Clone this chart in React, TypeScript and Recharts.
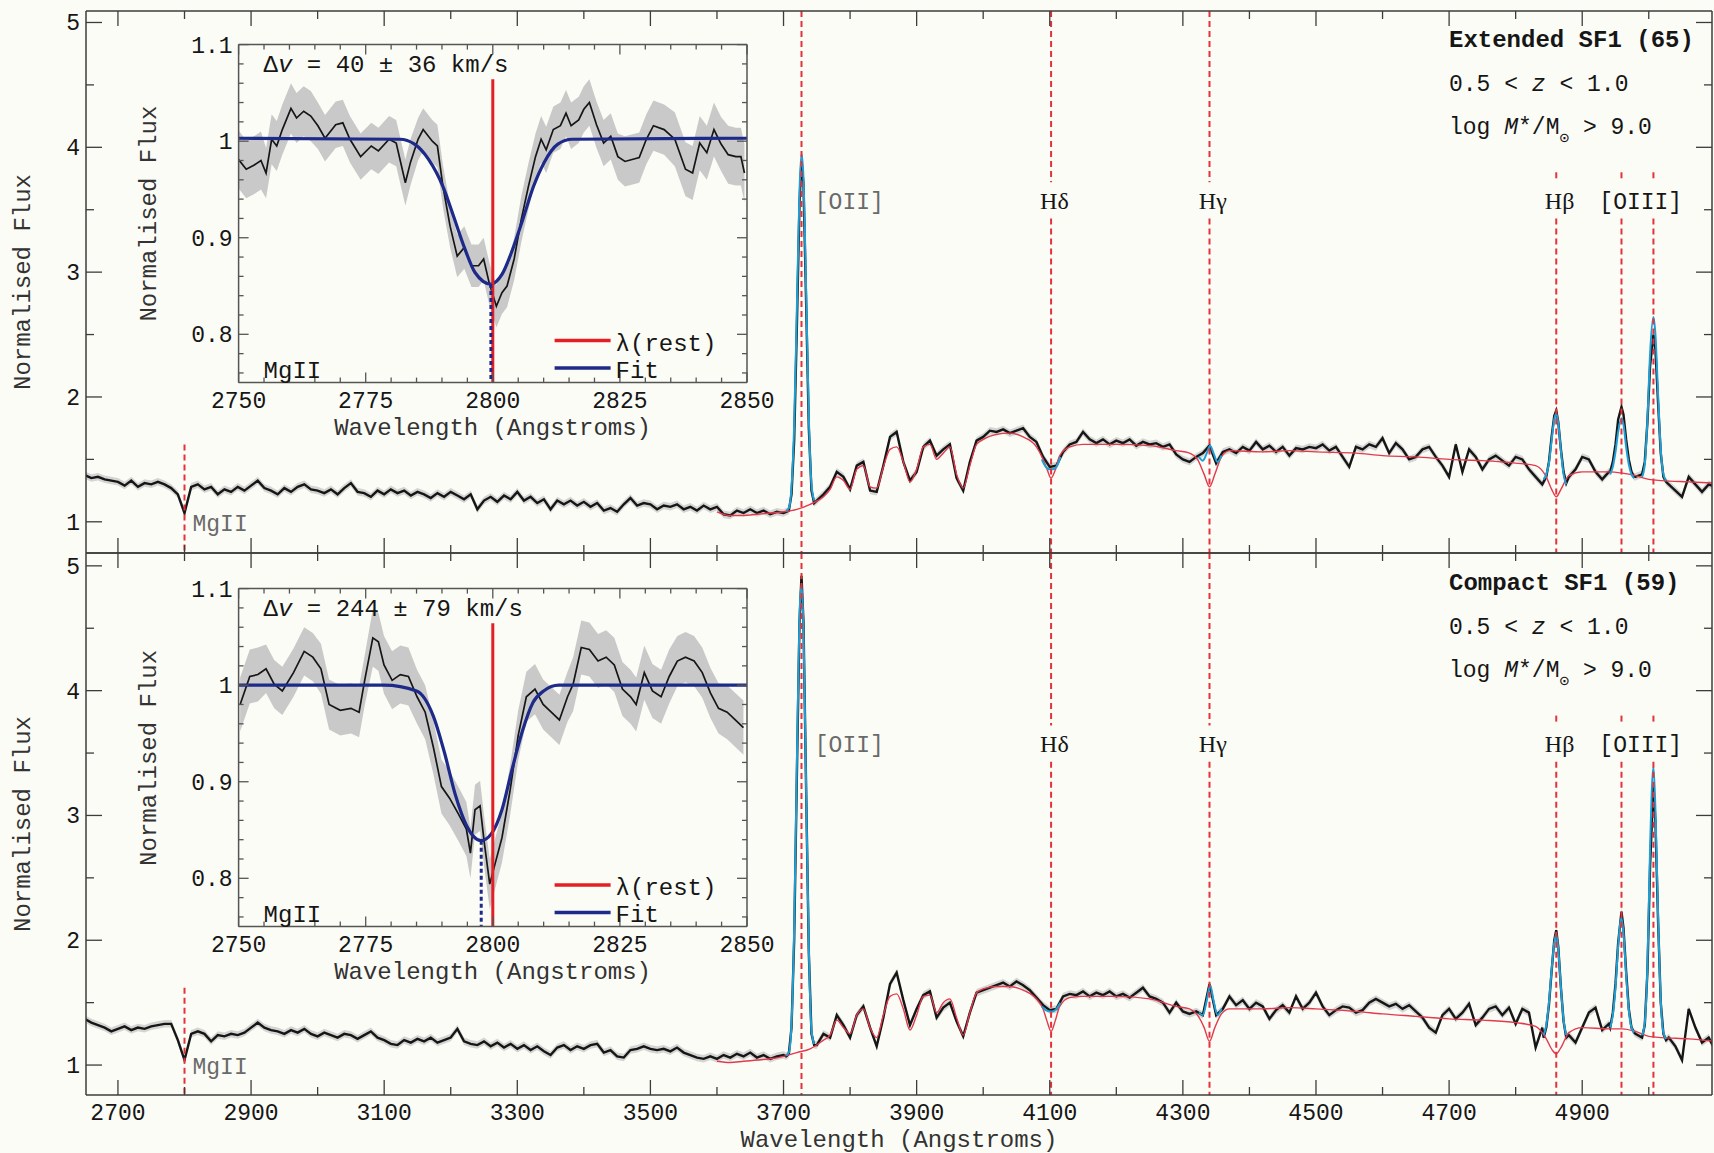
import { ComposedChart, Line, Area, XAxis, YAxis, ReferenceLine, ReferenceDot } from 'recharts';

type Pair = [number, number];

const W = 1714;
const H = 1153;
const BG = '#fcfcf6';
const INK = '#161616';
const FRAME = '#3c3c3c';
const MONO = '"Liberation Mono", "DejaVu Sans Mono", monospace';
const SERIF = '"Liberation Serif", "DejaVu Serif", serif';
const DASH_RED = '#e3323c';
const MODEL_RED = '#e23a4c';
const FIT_CYAN = '#1f9fd6';
const FIT_NAVY = '#1e2a8a';
const REST_RED = '#e31e24';
const BAND = '#cfcfcf';

// stacked spectra, sampled every 10 A from 2650 A
const GRID_START = 2650;
const GRID_STEP = 10;

const extFlux = [
  1.375, 1.35, 1.36, 1.34, 1.33, 1.32, 1.29, 1.33, 1.28, 1.31,
  1.30, 1.32, 1.30, 1.27, 1.22, 1.07, 1.28, 1.30, 1.26, 1.28,
  1.22, 1.26, 1.24, 1.28, 1.25, 1.29, 1.33, 1.27, 1.25, 1.22,
  1.27, 1.24, 1.28, 1.30, 1.26, 1.25, 1.23, 1.26, 1.22, 1.27,
  1.31, 1.24, 1.23, 1.20, 1.25, 1.22, 1.26, 1.23, 1.25, 1.21,
  1.24, 1.22, 1.19, 1.23, 1.20, 1.24, 1.21, 1.18, 1.22, 1.10,
  1.17, 1.20, 1.16, 1.21, 1.18, 1.24, 1.17, 1.20, 1.15, 1.18,
  1.10, 1.17, 1.14, 1.17, 1.13, 1.16, 1.12, 1.15, 1.09, 1.11,
  1.08, 1.14, 1.19, 1.13, 1.15, 1.14, 1.10, 1.13, 1.12, 1.14,
  1.10, 1.12, 1.09, 1.13, 1.10, 1.12, 1.06, 1.05, 1.09, 1.07,
  1.10, 1.07, 1.09, 1.06, 1.08, 1.07, 1.09, 2.60, 3.70, 1.18,
  1.17, 1.22, 1.28, 1.40, 1.36, 1.26, 1.45, 1.48, 1.25, 1.24,
  1.45, 1.68, 1.72, 1.48, 1.33, 1.40, 1.60, 1.65, 1.53, 1.58,
  1.62, 1.35, 1.25, 1.48, 1.65, 1.68, 1.73, 1.72, 1.74, 1.71,
  1.73, 1.75, 1.68, 1.64, 1.52, 1.44, 1.45, 1.56, 1.62, 1.64,
  1.72, 1.66, 1.63, 1.66, 1.62, 1.65, 1.63, 1.66, 1.61, 1.64,
  1.62, 1.63, 1.60, 1.62, 1.54, 1.50, 1.48, 1.52, 1.55, 1.61,
  1.47, 1.56, 1.58, 1.55, 1.60, 1.57, 1.64, 1.58, 1.61, 1.56,
  1.60, 1.53, 1.59, 1.58, 1.60, 1.59, 1.62, 1.57, 1.60, 1.52,
  1.44, 1.60, 1.58, 1.62, 1.60, 1.67, 1.55, 1.63, 1.58, 1.50,
  1.52, 1.58, 1.60, 1.52, 1.45, 1.36, 1.62, 1.40, 1.58, 1.52,
  1.42, 1.50, 1.53, 1.49, 1.45, 1.52, 1.50, 1.42, 1.36, 1.30,
  1.60, 1.85, 1.55, 1.36, 1.42, 1.52, 1.50, 1.40, 1.34, 1.40,
  1.60, 1.85, 1.50, 1.36, 1.40, 2.20, 2.30, 1.30, 1.30, 1.25,
  1.20, 1.36, 1.30, 1.24, 1.30, 1.28,
];

const cmpFlux = [
  1.37, 1.34, 1.32, 1.30, 1.27, 1.29, 1.31, 1.28, 1.30, 1.29,
  1.31, 1.32, 1.33, 1.33, 1.20, 1.04, 1.25, 1.27, 1.25, 1.19,
  1.24, 1.23, 1.25, 1.24, 1.26, 1.30, 1.34, 1.30, 1.28, 1.27,
  1.25, 1.28, 1.26, 1.29, 1.25, 1.23, 1.26, 1.24, 1.22, 1.25,
  1.24, 1.21, 1.24, 1.27, 1.22, 1.20, 1.17, 1.16, 1.20, 1.18,
  1.21, 1.19, 1.22, 1.18, 1.20, 1.22, 1.29, 1.19, 1.17, 1.16,
  1.19, 1.15, 1.18, 1.14, 1.17, 1.13, 1.16, 1.12, 1.15, 1.11,
  1.08, 1.14, 1.16, 1.12, 1.15, 1.13, 1.16, 1.17, 1.10, 1.12,
  1.07, 1.06, 1.12, 1.13, 1.15, 1.13, 1.12, 1.13, 1.11, 1.14,
  1.10, 1.08, 1.06, 1.05, 1.07, 1.05, 1.08, 1.06, 1.09, 1.07,
  1.10, 1.06, 1.08, 1.05, 1.07, 1.08, 1.10, 3.30, 4.50, 1.30,
  1.16, 1.25, 1.22, 1.40, 1.32, 1.22, 1.40, 1.47, 1.30, 1.15,
  1.38, 1.65, 1.74, 1.52, 1.32, 1.45, 1.56, 1.59, 1.38, 1.46,
  1.50, 1.35, 1.23, 1.42, 1.58, 1.60, 1.62, 1.64, 1.66, 1.63,
  1.67, 1.64, 1.60, 1.54, 1.48, 1.44, 1.45, 1.55, 1.57, 1.56,
  1.59, 1.55, 1.58, 1.56, 1.59, 1.55, 1.57, 1.54, 1.58, 1.62,
  1.55, 1.53, 1.50, 1.42, 1.50, 1.43, 1.41, 1.43, 1.40, 1.65,
  1.40, 1.45, 1.55, 1.48, 1.52, 1.45, 1.50, 1.47, 1.37, 1.44,
  1.48, 1.42, 1.55, 1.45, 1.50, 1.58, 1.47, 1.40, 1.44, 1.47,
  1.46, 1.42, 1.44, 1.50, 1.53, 1.50, 1.47, 1.49, 1.45, 1.48,
  1.43, 1.38, 1.30, 1.26, 1.40, 1.45, 1.37, 1.42, 1.49, 1.32,
  1.38, 1.45, 1.47, 1.40, 1.46, 1.33, 1.45, 1.42, 1.14, 1.30,
  1.70, 2.00, 1.40, 1.24, 1.18, 1.30, 1.42, 1.46, 1.28, 1.33,
  1.70, 2.10, 1.40, 1.25, 1.22, 2.50, 2.80, 1.40, 1.22, 1.15,
  1.04, 1.45, 1.30, 1.18, 1.22, 1.12,
];

// emission-line profiles at finer sampling: [wavelength, flux]
const extOii: Pair[] = [[3704, 1.08], [3708, 1.09], [3712, 1.22], [3716, 1.65], [3720, 2.55], [3724, 3.55], [3727, 3.9], [3730, 3.7], [3734, 2.75], [3738, 1.75], [3742, 1.25], [3746, 1.15]];
const extHb: Pair[] = [[4842, 1.32], [4846, 1.36], [4850, 1.48], [4854, 1.68], [4858, 1.85], [4861, 1.89], [4864, 1.8], [4868, 1.58], [4872, 1.4], [4876, 1.31]];
const extO3a: Pair[] = [[4942, 1.4], [4946, 1.48], [4950, 1.62], [4954, 1.82], [4959, 1.92], [4962, 1.86], [4966, 1.66], [4970, 1.5], [4974, 1.4], [4978, 1.36]];
const extO3b: Pair[] = [[4990, 1.38], [4994, 1.48], [4998, 1.8], [5002, 2.25], [5007, 2.5], [5010, 2.38], [5014, 1.95], [5018, 1.55], [5022, 1.36], [5026, 1.32]];

const cmpOii: Pair[] = [[3704, 1.07], [3708, 1.09], [3712, 1.3], [3716, 2.0], [3720, 3.3], [3724, 4.55], [3727, 4.92], [3730, 4.55], [3734, 3.2], [3738, 1.9], [3742, 1.25], [3746, 1.16]];
const cmpHb: Pair[] = [[4842, 1.22], [4846, 1.3], [4850, 1.48], [4854, 1.75], [4858, 2.0], [4861, 2.08], [4864, 1.95], [4868, 1.62], [4872, 1.35], [4876, 1.22]];
const cmpO3a: Pair[] = [[4942, 1.3], [4946, 1.42], [4950, 1.65], [4954, 1.98], [4959, 2.23], [4962, 2.1], [4966, 1.75], [4970, 1.45], [4974, 1.3], [4978, 1.26]];
const cmpO3b: Pair[] = [[4990, 1.22], [4994, 1.32], [4998, 1.75], [5002, 2.6], [5007, 3.24], [5010, 2.95], [5014, 2.15], [5018, 1.5], [5022, 1.25], [5026, 1.2]];

// Gaussian line fits
const extFitOii: Pair[] = [[3704, 1.09], [3708, 1.11], [3712, 1.28], [3716, 1.78], [3720, 2.7], [3724, 3.65], [3727, 3.95], [3730, 3.75], [3734, 2.85], [3738, 1.85], [3742, 1.3], [3746, 1.17]];
const extFitHd: Pair[] = [[4088, 1.5], [4094, 1.44], [4100, 1.42], [4104, 1.42], [4110, 1.44], [4116, 1.52]];
const extFitHg: Pair[] = [[4324, 1.52], [4330, 1.49], [4336, 1.55], [4341, 1.61], [4346, 1.55], [4352, 1.48], [4358, 1.53]];
const extFitHb: Pair[] = [[4842, 1.34], [4846, 1.38], [4850, 1.47], [4854, 1.65], [4858, 1.82], [4861, 1.87], [4864, 1.79], [4868, 1.57], [4872, 1.38], [4876, 1.3]];
const extFitO3a: Pair[] = [[4942, 1.38], [4946, 1.44], [4950, 1.56], [4954, 1.72], [4959, 1.83], [4962, 1.78], [4966, 1.6], [4970, 1.46], [4974, 1.38], [4978, 1.35]];
const extFitO3b: Pair[] = [[4990, 1.36], [4994, 1.46], [4998, 1.82], [5002, 2.35], [5007, 2.64], [5010, 2.5], [5014, 2.02], [5018, 1.58], [5022, 1.38], [5026, 1.33]];

const cmpFitOii: Pair[] = [[3704, 1.08], [3708, 1.1], [3712, 1.33], [3716, 2.1], [3720, 3.4], [3724, 4.6], [3727, 4.85], [3730, 4.5], [3734, 3.2], [3738, 1.95], [3742, 1.28], [3746, 1.17]];
const cmpFitHd: Pair[] = [[4088, 1.47], [4094, 1.44], [4100, 1.43], [4104, 1.43], [4110, 1.45], [4116, 1.5]];
const cmpFitHg: Pair[] = [[4324, 1.42], [4330, 1.4], [4336, 1.52], [4341, 1.64], [4346, 1.52], [4352, 1.4], [4358, 1.45]];
const cmpFitHb: Pair[] = [[4842, 1.24], [4846, 1.32], [4850, 1.5], [4854, 1.76], [4858, 1.98], [4861, 2.05], [4864, 1.93], [4868, 1.62], [4872, 1.36], [4876, 1.24]];
const cmpFitO3a: Pair[] = [[4942, 1.3], [4946, 1.4], [4950, 1.62], [4954, 1.95], [4959, 2.18], [4962, 2.06], [4966, 1.72], [4970, 1.44], [4974, 1.3], [4978, 1.26]];
const cmpFitO3b: Pair[] = [[4990, 1.24], [4994, 1.34], [4998, 1.8], [5002, 2.75], [5007, 3.39], [5010, 3.05], [5014, 2.2], [5018, 1.52], [5022, 1.26], [5026, 1.21]];

// stellar population model
const extModel: Pair[] = [
  [3600, 1.08], [3620, 1.05], [3640, 1.05], [3660, 1.06], [3680, 1.07], [3700, 1.08], [3720, 1.1], [3740, 1.14],
  [3760, 1.2], [3770, 1.26], [3780, 1.36], [3790, 1.33], [3800, 1.26], [3810, 1.42], [3820, 1.45], [3830, 1.28],
  [3840, 1.27], [3850, 1.44], [3860, 1.58], [3870, 1.6], [3880, 1.48], [3890, 1.32], [3900, 1.42], [3910, 1.6],
  [3920, 1.62], [3930, 1.5], [3940, 1.55], [3950, 1.6], [3960, 1.38], [3970, 1.27], [3980, 1.45], [3990, 1.62],
  [4000, 1.66], [4020, 1.7], [4040, 1.71], [4060, 1.68], [4080, 1.6], [4090, 1.5], [4096, 1.42], [4102, 1.35],
  [4108, 1.41], [4115, 1.53], [4130, 1.6], [4150, 1.62], [4200, 1.62], [4250, 1.61], [4290, 1.57], [4310, 1.55],
  [4322, 1.5], [4332, 1.38], [4340, 1.28], [4348, 1.38], [4358, 1.52], [4370, 1.57], [4420, 1.56], [4460, 1.57],
  [4500, 1.56], [4560, 1.55], [4600, 1.53], [4650, 1.52], [4700, 1.5], [4750, 1.49], [4800, 1.47], [4830, 1.45],
  [4845, 1.37], [4855, 1.25], [4861, 1.2], [4868, 1.26], [4880, 1.37], [4900, 1.4], [4940, 1.4], [4960, 1.39],
  [4980, 1.37], [5000, 1.34], [5020, 1.33], [5060, 1.32], [5100, 1.31],
];
const cmpModel: Pair[] = [
  [3600, 1.03], [3620, 1.02], [3640, 1.03], [3660, 1.04], [3680, 1.05], [3700, 1.07], [3720, 1.1], [3740, 1.13],
  [3760, 1.2], [3770, 1.24], [3780, 1.36], [3790, 1.3], [3800, 1.25], [3810, 1.4], [3820, 1.45], [3830, 1.3],
  [3840, 1.22], [3850, 1.4], [3860, 1.55], [3870, 1.57], [3880, 1.45], [3890, 1.28], [3900, 1.4], [3910, 1.55],
  [3920, 1.56], [3930, 1.42], [3940, 1.5], [3950, 1.53], [3960, 1.38], [3970, 1.24], [3980, 1.42], [3990, 1.58],
  [4000, 1.61], [4020, 1.63], [4040, 1.63], [4060, 1.6], [4080, 1.53], [4090, 1.45], [4096, 1.35], [4102, 1.27],
  [4108, 1.35], [4115, 1.47], [4130, 1.54], [4150, 1.55], [4200, 1.55], [4250, 1.53], [4290, 1.47], [4310, 1.45],
  [4322, 1.4], [4332, 1.3], [4340, 1.19], [4348, 1.3], [4358, 1.41], [4370, 1.45], [4420, 1.45], [4460, 1.46],
  [4500, 1.45], [4560, 1.43], [4600, 1.41], [4650, 1.39], [4700, 1.37], [4750, 1.36], [4800, 1.34], [4830, 1.31],
  [4845, 1.22], [4855, 1.12], [4861, 1.09], [4868, 1.14], [4880, 1.26], [4900, 1.3], [4940, 1.29], [4960, 1.29],
  [4980, 1.27], [5000, 1.23], [5020, 1.22], [5060, 1.21], [5100, 1.19],
];

// MgII 2800 zoom-ins: [wavelength, flux]
const extMg: Pair[] = [
  [2750, 0.981], [2751.5, 0.971], [2753, 0.975], [2754.4, 0.98], [2755.4, 0.967], [2756.5, 1.002], [2757.5, 0.995],
  [2758.6, 1.012], [2760.3, 1.034], [2761.4, 1.024], [2762.8, 1.031], [2764.2, 1.026], [2765.6, 1.016], [2767, 1.003],
  [2769.1, 1.017], [2770.5, 1.019], [2771.9, 1.002], [2774, 0.984], [2776.1, 0.995], [2777.5, 0.99], [2779.6, 1.002],
  [2781, 0.998], [2782.8, 0.957], [2783.8, 0.978], [2785.3, 1.002], [2786.3, 1.012], [2788.1, 1.0], [2789.1, 0.995],
  [2790.2, 0.953], [2791.6, 0.912], [2793, 0.881], [2794.4, 0.89], [2795.8, 0.871], [2797.2, 0.871], [2798.2, 0.878],
  [2799.3, 0.853], [2800.7, 0.829], [2801.8, 0.843], [2802.8, 0.85], [2804.2, 0.878], [2805.6, 0.919], [2807, 0.953],
  [2808.4, 0.984], [2809.5, 1.002], [2810.5, 0.991], [2811.9, 1.012], [2813.3, 1.016], [2814.4, 1.029], [2815.4, 1.016],
  [2816.9, 1.022], [2817.9, 1.033], [2819, 1.04], [2820.4, 1.017], [2821.8, 0.998], [2823.2, 1.005], [2824.6, 0.984],
  [2826, 0.979], [2828.8, 0.983], [2830.2, 1.002], [2831.6, 1.016], [2833.7, 1.012], [2835.8, 1.002], [2837.9, 0.971],
  [2839.3, 0.967], [2840.7, 0.998], [2842.1, 0.988], [2843.5, 1.012], [2844.9, 0.997], [2846.3, 0.986], [2847.8, 0.984],
  [2848.8, 0.984], [2849.5, 0.967],
];
const cmpMg: Pair[] = [
  [2750.3, 0.98], [2752.2, 1.009], [2753.8, 1.011], [2755.4, 1.017], [2757, 1.001], [2758.6, 0.994], [2760.8, 1.013],
  [2762.9, 1.035], [2764.6, 1.029], [2766.2, 1.017], [2767.8, 0.98], [2770, 0.974], [2772.1, 0.976], [2773.7, 0.972],
  [2774.8, 1.005], [2776.4, 1.049], [2777.5, 1.045], [2778.6, 1.021], [2780.2, 1.005], [2781.8, 1.011], [2783.4, 1.009],
  [2785.1, 0.988], [2786.7, 0.972], [2788.3, 0.936], [2789.9, 0.895], [2791.5, 0.883], [2793.2, 0.867], [2794.8, 0.851],
  [2795.6, 0.826], [2796.5, 0.871], [2797.5, 0.875], [2798.3, 0.838], [2799.4, 0.794], [2800.2, 0.81], [2801.8, 0.842],
  [2803.4, 0.891], [2805, 0.948], [2806.6, 0.988], [2808.3, 0.996], [2809.9, 0.98], [2811.5, 0.972], [2813.1, 0.964],
  [2814.7, 0.988], [2815.8, 1.001], [2817.4, 1.039], [2819, 1.037], [2820.7, 1.025], [2822.3, 1.029], [2823.9, 1.021],
  [2825.5, 0.996], [2827.1, 0.988], [2828.2, 0.98], [2829.8, 1.013], [2831.4, 0.994], [2833.1, 0.988], [2834.7, 1.009],
  [2836.3, 1.025], [2837.9, 1.029], [2839.6, 1.025], [2841.2, 1.013], [2842.8, 0.992], [2844.4, 0.976], [2846.1, 0.972],
  [2847.7, 0.964], [2849.3, 0.956],
];
// 1-sigma width of the grey band, one value per 10 A from 2750 to 2850
const extMgErr = [0.03, 0.026, 0.024, 0.024, 0.022, 0.022, 0.024, 0.024, 0.026, 0.028, 0.03];
const cmpMgErr = [0.028, 0.025, 0.026, 0.03, 0.028, 0.026, 0.026, 0.028, 0.028, 0.026, 0.028];

const extMgFit: Pair[] = [
  [2750, 1.003], [2781.7, 1.002], [2784.6, 0.997], [2787.4, 0.981], [2790.2, 0.953], [2792.3, 0.922], [2794.4, 0.89],
  [2796.5, 0.864], [2799.6, 0.852], [2801.8, 0.862], [2803.9, 0.888], [2805.9, 0.919], [2808, 0.953], [2810.1, 0.978],
  [2812.8, 0.997], [2815.6, 1.002], [2850, 1.003],
];
const cmpMgFit: Pair[] = [
  [2750, 1.0], [2778.6, 1.0], [2785, 0.994], [2788.3, 0.968], [2790.5, 0.93], [2792.6, 0.887], [2794.8, 0.855],
  [2797.7, 0.839], [2799.7, 0.846], [2801.8, 0.871], [2803.7, 0.911], [2805.8, 0.952], [2807.9, 0.982], [2810, 0.994],
  [2813, 1.0], [2850, 1.0],
];
const extDv = [40, 36];
const cmpDv = [244, 79];

// rest-frame wavelengths of the marked lines
const restLines = [2800, 3727, 4102, 4340, 4861, 4959, 5007];
const lineLabels = ['[OII]', 'Hδ', 'Hγ', 'Hβ', '[OIII]'];
const labelAt = [3727, 4102, 4340, 4861, 4983];

const mainXTicks = [2700, 2800, 2900, 3000, 3100, 3200, 3300, 3400, 3500, 3600, 3700, 3800, 3900, 4000, 4100, 4200, 4300, 4400, 4500, 4600, 4700, 4800, 4900, 5000];
const mainYTicks = [1, 1.5, 2, 2.5, 3, 3.5, 4, 4.5, 5];
const insetXTicks = [2750, 2755, 2760, 2765, 2770, 2775, 2780, 2785, 2790, 2795, 2800, 2805, 2810, 2815, 2820, 2825, 2830, 2835, 2840, 2845, 2850];
const insetYTicks = [0.76, 0.78, 0.8, 0.82, 0.84, 0.86, 0.88, 0.9, 0.92, 0.94, 0.96, 0.98, 1, 1.02, 1.04, 1.06, 1.08, 1.1];

const X_DOMAIN: [number, number] = [2652, 5095];
const MAIN_ERR = 0.03;
const MG_REST = 2800;
const C_KMS = 299792.458;

const INSET_LEFT = 238.6;
const INSET_H = 338;
const INSET_TOPS = [44.6, 588.9];

const toPts = (arr: Pair[]) => arr.map(([w, f]) => ({ w, f }));

function buildSpectrum(flux: number[], peaks: Pair[][]) {
  const pts: { w: number; f: number }[] = [];
  flux.forEach((f, i) => {
    const w = GRID_START + i * GRID_STEP;
    if (peaks.some((p) => w >= p[0][0] && w <= p[p.length - 1][0])) return;
    pts.push({ w, f });
  });
  peaks.forEach((p) => p.forEach(([w, f]) => pts.push({ w, f })));
  pts.sort((a, b) => a.w - b.w);
  return pts.map((p) => ({ ...p, band: [p.f - MAIN_ERR, p.f + MAIN_ERR] }));
}

type Side = 'bottom' | 'top' | 'left' | 'right';

function tickRenderer(
  side: Side,
  isMajor: (v: number) => boolean,
  lens: [number, number],
  label?: (v: number) => string | null,
  color = FRAME,
) {
  return (p: any) => {
    const v = p.payload.value as number;
    const len = isMajor(v) ? lens[0] : lens[1];
    const { x, y } = p;
    const lab = label && isMajor(v) ? label(v) : null;
    let seg = { x1: x, y1: y, x2: x, y2: y };
    let txt = null;
    if (side === 'bottom') {
      seg = { x1: x, y1: y, x2: x, y2: y - len };
      if (lab) txt = <text x={x} y={y + 25} textAnchor="middle">{lab}</text>;
    } else if (side === 'top') {
      seg = { x1: x, y1: y, x2: x, y2: y + len };
    } else if (side === 'left') {
      seg = { x1: x, y1: y, x2: x + len, y2: y };
      if (lab) txt = <text x={x - 6} y={y + 8} textAnchor="end">{lab}</text>;
    } else {
      seg = { x1: x, y1: y, x2: x - len, y2: y };
    }
    return (
      <g>
        <line {...seg} stroke={color} strokeWidth={1.3} />
        {txt && (
          <g fontFamily={MONO} fontSize={23} fill={INK}>
            {txt}
          </g>
        )}
      </g>
    );
  };
}

const mainXMajor = (v: number) => (v - 2700) % 200 === 0;
const mainYMajor = (v: number) => Number.isInteger(v);
const insetXMajor = (v: number) => v % 25 === 0;
const insetYMajor = (v: number) => Math.abs(v * 10 - Math.round(v * 10)) < 1e-6;

type PanelProps = {
  height: number;
  margin: { top: number; right: number; bottom: number; left: number };
  yDomain: [number, number];
  xAxisHeight: number;
  showXLabels: boolean;
  flux: number[];
  peaks: Pair[][];
  fits: Pair[][];
  model: Pair[];
};

function SpectrumPanel({ height, margin, yDomain, xAxisHeight, showXLabels, flux, peaks, fits, model }: PanelProps) {
  const data = buildSpectrum(flux, peaks);
  const [yMin, yMax] = yDomain;
  const axisLine = { stroke: FRAME, strokeWidth: 1.5 };
  // dashed markers: MgII is short, [OII] runs full height, the others break around their labels
  const segments = (i: number): Pair[] => {
    if (i === 0) return [[1.62, yMin]];
    if (i === 1) return [[yMax, yMin]];
    const top = i <= 3 ? yMax : 3.8;
    return [[top, 3.72], [3.43, yMin]];
  };
  return (
    <ComposedChart width={W} height={height} data={data} margin={margin}>
      <XAxis
        dataKey="w" type="number" domain={X_DOMAIN} allowDataOverflow ticks={mainXTicks} interval={0}
        tickSize={0} tickMargin={0} height={xAxisHeight} axisLine={axisLine} tickLine={false}
        tick={tickRenderer('bottom', mainXMajor, [15, 8], showXLabels ? (v) => String(v) : undefined)}
      />
      <XAxis
        xAxisId="top" orientation="top" dataKey="w" type="number" domain={X_DOMAIN} allowDataOverflow
        ticks={mainXTicks} interval={0} tickSize={0} tickMargin={0} height={1} axisLine={axisLine}
        tickLine={false} tick={tickRenderer('top', mainXMajor, [15, 8])}
      />
      <YAxis
        type="number" domain={yDomain} allowDataOverflow ticks={mainYTicks} interval={0} tickSize={0}
        tickMargin={0} width={50} axisLine={axisLine} tickLine={false}
        tick={tickRenderer('left', mainYMajor, [16, 8], (v) => String(v))}
      />
      <YAxis
        yAxisId="right" orientation="right" type="number" domain={yDomain} allowDataOverflow ticks={mainYTicks}
        interval={0} tickSize={0} tickMargin={0} width={1} axisLine={axisLine} tickLine={false}
        tick={tickRenderer('right', mainYMajor, [16, 8])}
      />
      <Area dataKey="band" stroke="none" fill={BAND} fillOpacity={0.9} isAnimationActive={false} />
      <Line dataKey="f" stroke={INK} strokeWidth={2.4} dot={false} type="linear" isAnimationActive={false} />
      <Line data={toPts(model)} dataKey="f" stroke={MODEL_RED} strokeWidth={1.4} dot={false} type="monotone" isAnimationActive={false} />
      {fits.map((f, i) => (
        <Line key={`fit${i}`} data={toPts(f)} dataKey="f" stroke={FIT_CYAN} strokeWidth={2} dot={false} type="monotone" isAnimationActive={false} />
      ))}
      {restLines.map((w, i) =>
        segments(i).map(([a, b], j) => (
          <ReferenceLine
            key={`d${i}-${j}`}
            segment={[{ x: w, y: a }, { x: w, y: b }]}
            stroke={DASH_RED}
            strokeWidth={2}
            strokeDasharray="6 4"
            ifOverflow="visible"
          />
        )),
      )}
      <ReferenceDot
        x={2812} y={0.99} r={0} ifOverflow="visible"
        shape={(p: any) => (
          <text x={p.cx} y={p.cy + 8} fontFamily={MONO} fontSize={23} fill="#6a6a6a">MgII</text>
        )}
      />
      {lineLabels.map((t, i) => (
        <ReferenceDot
          key={t} x={i === 0 ? labelAt[i] + 20 : labelAt[i] + 5} y={3.57} r={0} ifOverflow="visible"
          shape={(p: any) => (
            <text
              x={p.cx} y={p.cy + 8} textAnchor={i === 0 ? 'start' : 'middle'}
              fontFamily={i === 0 || i === 4 ? MONO : SERIF} fontSize={i === 0 || i === 4 ? 23 : 24}
              fill={i === 0 ? '#6a6a6a' : INK}
            >
              {t}
            </text>
          )}
        />
      ))}
    </ComposedChart>
  );
}

type InsetProps = { top: number; spec: Pair[]; err: number[]; fit: Pair[]; dv: number };

const INSET_CHART_W = 700;

function MgInset({ top, spec, err, fit, dv }: InsetProps) {
  const data = spec.map(([w, f]) => {
    const e = err[Math.round((w - 2750) / 10)];
    return { w, f, band: [f - e, f + e] };
  });
  const centre = MG_REST * (1 - dv / C_KMS);
  const fitMin = Math.min(...fit.map((p) => p[1]));
  const axisLine = { stroke: '#555', strokeWidth: 1.5 };
  const yDomain: [number, number] = [0.75, 1.1];
  const rightMargin = INSET_CHART_W - 118.6 - 508.4 - 1;
  return (
    <div style={{ position: 'absolute', left: INSET_LEFT - 118.6, top: top - 14.6 }}>
      <ComposedChart
        width={INSET_CHART_W} height={420} data={data}
        margin={{ top: 13.6, right: rightMargin, bottom: 420 - 14.6 - INSET_H - 60, left: 68.6 }}
      >
        <XAxis
          dataKey="w" type="number" domain={[2750, 2850]} allowDataOverflow ticks={insetXTicks} interval={0}
          tickSize={0} tickMargin={0} height={60} axisLine={axisLine} tickLine={false}
          tick={tickRenderer('bottom', insetXMajor, [10, 5], (v) => String(v), '#555')}
        />
        <XAxis
          xAxisId="top" orientation="top" dataKey="w" type="number" domain={[2750, 2850]} allowDataOverflow
          ticks={insetXTicks} interval={0} tickSize={0} tickMargin={0} height={1} axisLine={axisLine}
          tickLine={false} tick={tickRenderer('top', insetXMajor, [10, 5], undefined, '#555')}
        />
        <YAxis
          type="number" domain={yDomain} allowDataOverflow ticks={insetYTicks} interval={0} tickSize={0}
          tickMargin={0} width={50} axisLine={axisLine} tickLine={false}
          tick={tickRenderer('left', insetYMajor, [10, 5], (v) => (v === 1 ? '1' : v.toFixed(1)), '#555')}
        />
        <YAxis
          yAxisId="right" orientation="right" type="number" domain={yDomain} allowDataOverflow ticks={insetYTicks}
          interval={0} tickSize={0} tickMargin={0} width={1} axisLine={axisLine} tickLine={false}
          tick={tickRenderer('right', insetYMajor, [10, 5], undefined, '#555')}
        />
        <Area dataKey="band" stroke="none" fill="#c9c9c9" fillOpacity={1} isAnimationActive={false} />
        <Line dataKey="f" stroke={INK} strokeWidth={1.7} dot={false} type="linear" isAnimationActive={false} />
        <Line data={toPts(fit)} dataKey="f" stroke={FIT_NAVY} strokeWidth={3.2} dot={false} type="monotone" isAnimationActive={false} />
        <ReferenceLine segment={[{ x: MG_REST, y: 1.064 }, { x: MG_REST, y: 0.75 }]} stroke={REST_RED} strokeWidth={3} ifOverflow="visible" />
        <ReferenceLine segment={[{ x: centre, y: fitMin }, { x: centre, y: 0.75 }]} stroke={FIT_NAVY} strokeWidth={3} strokeDasharray="4 3" ifOverflow="visible" />
      </ComposedChart>
    </div>
  );
}

function InsetNotes({ top, dv }: { top: number; dv: number[] }) {
  const x0 = INSET_LEFT;
  return (
    <g fontFamily={MONO} fontSize={24} fill={INK}>
      <text x={x0 + 25} y={top + 27}>
        Δ<tspan fontStyle="italic">v</tspan> = {dv[0]} ± {dv[1]} km/s
      </text>
      <text x={x0 + 25} y={top + 333}>MgII</text>
      <line x1={x0 + 316} x2={x0 + 372} y1={top + 296} y2={top + 296} stroke={REST_RED} strokeWidth={3.5} />
      <text x={x0 + 377} y={top + 306}>λ(rest)</text>
      <line x1={x0 + 316} x2={x0 + 372} y1={top + 323.5} y2={top + 323.5} stroke={FIT_NAVY} strokeWidth={3.5} />
      <text x={x0 + 377} y={top + 333}>Fit</text>
      <text transform={`translate(${x0 - 83},${top + 169}) rotate(-90)`} textAnchor="middle" fill="#333">Normalised Flux</text>
      <text x={x0 + 254} y={top + 390} textAnchor="middle" fill="#333">Wavelength (Angstroms)</text>
    </g>
  );
}

function SampleInfo({ y, title }: { y: number; title: string }) {
  const x = 1449;
  return (
    <g fontFamily={MONO} fontSize={23} fill={INK}>
      <text x={x} y={y} fontSize={24} fontWeight="bold">{title}</text>
      <text x={x} y={y + 43.5}>
        0.5 &lt; <tspan fontStyle="italic">z</tspan> &lt; 1.0
      </text>
      <text x={x} y={y + 87}>
        log <tspan fontStyle="italic">M</tspan>*/M<tspan fontSize={16} dy={9}>⊙</tspan>
        <tspan dy={-9}> &gt; 9.0</tspan>
      </text>
    </g>
  );
}

export default function App() {
  return (
    <div style={{ position: 'absolute', left: 0, top: 0, width: W, height: H, background: BG, overflow: 'hidden' }}>
      <div style={{ position: 'absolute', left: 0, top: 0 }}>
        <SpectrumPanel
          height={560}
          margin={{ top: 10, right: 1, bottom: 6, left: 36 }}
          yDomain={[0.75, 5.092]}
          xAxisHeight={1}
          showXLabels={false}
          flux={extFlux}
          peaks={[extOii, extHb, extO3a, extO3b]}
          fits={[extFitOii, extFitHd, extFitHg, extFitHb, extFitO3a, extFitO3b]}
          model={extModel}
        />
      </div>
      <div style={{ position: 'absolute', left: 0, top: 0 }}>
        <SpectrumPanel
          height={H}
          margin={{ top: 552, right: 1, bottom: 18, left: 36 }}
          yDomain={[0.76, 5.103]}
          xAxisHeight={40}
          showXLabels
          flux={cmpFlux}
          peaks={[cmpOii, cmpHb, cmpO3a, cmpO3b]}
          fits={[cmpFitOii, cmpFitHd, cmpFitHg, cmpFitHb, cmpFitO3a, cmpFitO3b]}
          model={cmpModel}
        />
      </div>
      <MgInset top={INSET_TOPS[0]} spec={extMg} err={extMgErr} fit={extMgFit} dv={extDv[0]} />
      <MgInset top={INSET_TOPS[1]} spec={cmpMg} err={cmpMgErr} fit={cmpMgFit} dv={cmpDv[0]} />
      <svg width={W} height={H} style={{ position: 'absolute', left: 0, top: 0, pointerEvents: 'none', whiteSpace: 'pre' }}>
        <g fontFamily={MONO} fontSize={24} fill="#333">
          <text transform="translate(30,282) rotate(-90)" textAnchor="middle">Normalised Flux</text>
          <text transform="translate(30,824) rotate(-90)" textAnchor="middle">Normalised Flux</text>
          <text x={899} y={1147} textAnchor="middle">Wavelength (Angstroms)</text>
        </g>
        <SampleInfo y={47} title="Extended SF1 (65)" />
        <SampleInfo y={590} title="Compact SF1 (59)" />
        <InsetNotes top={INSET_TOPS[0]} dv={extDv} />
        <InsetNotes top={INSET_TOPS[1]} dv={cmpDv} />
      </svg>
    </div>
  );
}
